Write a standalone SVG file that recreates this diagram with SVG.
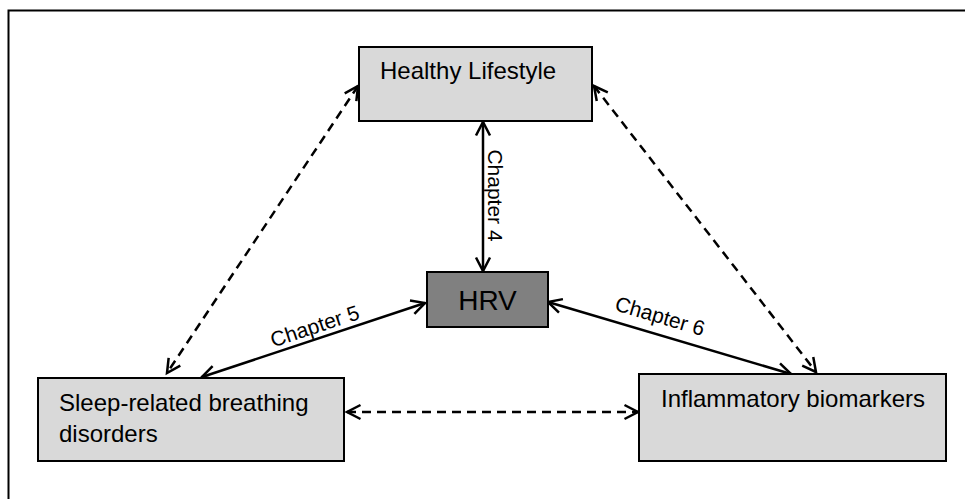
<svg xmlns="http://www.w3.org/2000/svg" width="965" height="499" viewBox="0 0 965 499">
<defs>
<marker id="ah" markerUnits="userSpaceOnUse" markerWidth="18" markerHeight="18" viewBox="0 0 18 18" refX="15" refY="9" orient="auto-start-reverse">
<path d="M1.5,2 L15,9 L1.5,16" fill="none" stroke="#000" stroke-width="2.5"/>
</marker>
</defs>
<style>
.box{fill:#d9d9d9;stroke:#000;stroke-width:2}
.hrv{fill:#808080;stroke:#000;stroke-width:2}
.t{font-family:"Liberation Sans",Arial,sans-serif;font-size:24px;fill:#000}
.ch{font-family:"Liberation Sans",Arial,sans-serif;font-size:21px;fill:#000}
.c{fill:none;stroke:#000;stroke-width:2.5;marker-start:url(#ah);marker-end:url(#ah)}
.d{stroke-dasharray:9 6}
</style>
<path d="M8.5,499 V10.5 H965" fill="none" stroke="#000" stroke-width="2"/>
<g id="connectors">
<line class="c" x1="483" y1="122" x2="483" y2="271"/>
<line class="c" x1="425" y1="303" x2="202" y2="377"/>
<line class="c" x1="548" y1="302" x2="791" y2="374"/>
<line class="c d" x1="358" y1="86" x2="167" y2="373"/>
<line class="c d" x1="594" y1="86" x2="816" y2="372"/>
<line class="c d" x1="347" y1="412" x2="638" y2="412"/>
<text class="ch" transform="translate(488,195.5) rotate(90)" text-anchor="middle">Chapter 4</text>
<text class="ch" transform="translate(317,333) rotate(-18.4)" text-anchor="middle">Chapter 5</text>
<text class="ch" transform="translate(658,323) rotate(16.5)" text-anchor="middle">Chapter 6</text>
</g>
<g id="healthy">
<rect class="box" x="359" y="47" width="233" height="74"/>
<text class="t" x="380" y="79">Healthy Lifestyle</text>
</g>
<g id="hrv">
<rect class="hrv" x="427" y="272" width="121" height="55"/>
<text class="t" x="487.5" y="310" text-anchor="middle" style="font-size:28px">HRV</text>
</g>
<g id="sleep">
<rect class="box" x="38" y="378" width="306" height="83"/>
<text class="t" x="59" y="411">Sleep-related breathing</text>
<text class="t" x="59" y="442">disorders</text>
</g>
<g id="inflammatory">
<rect class="box" x="639" y="374" width="307" height="87"/>
<text class="t" x="661" y="407">Inflammatory biomarkers</text>
</g>
</svg>
